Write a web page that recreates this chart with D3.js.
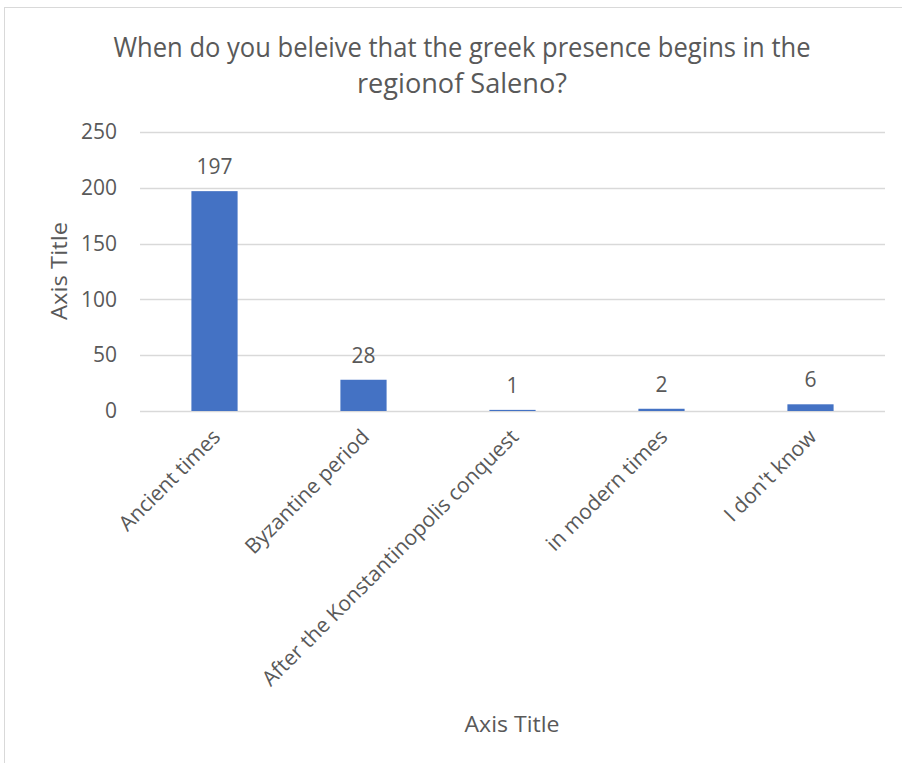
<!DOCTYPE html>
<html>
<head>
<meta charset="utf-8">
<script src="https://cdn.jsdelivr.net/npm/d3@7"></script>
<style>
  html, body { margin: 0; padding: 0; background: #fff; }
  svg { display: block; }
  text { font-family: "Open Sans", "Noto Sans", sans-serif; fill: #595959; }
</style>
</head>
<body>
<svg id="chart" width="902" height="763"></svg>
<script>
// Survey answers: when the Greek presence begins in the region
const categories = ["Ancient times", "Byzantine period", "After the Konstantinopolis conquest", "in modern times", "I don't know"];
const values = [197, 28, 1, 2, 6];
const yTicks = [0, 50, 100, 150, 200, 250];
const titleLines = ["When do you beleive that the greek presence begins in the", "regionof Saleno?"];
const xAxisTitle = "Axis Title";
const yAxisTitle = "Axis Title";

const svg = d3.select("#chart");
const plot = { left: 140, right: 885, top: 132, bottom: 411 };

// chart frame
svg.append("rect")
  .attr("x", 4.5).attr("y", 7.5)
  .attr("width", 1000).attr("height", 1000)
  .attr("fill", "#fff").attr("stroke", "#d9d9d9").attr("stroke-width", 1);

const x = d3.scaleBand().domain(categories).range([plot.left, plot.right]).paddingInner(0.69).paddingOuter(0.345);
const y = d3.scaleLinear().domain([0, 250]).range([plot.bottom, plot.top]);

// gridlines
svg.append("g").selectAll("line").data(yTicks).join("line")
  .attr("x1", plot.left).attr("x2", plot.right)
  .attr("y1", d => Math.round(y(d)) + 0.5).attr("y2", d => Math.round(y(d)) + 0.5)
  .attr("stroke", "#d9d9d9").attr("stroke-width", 1.5);

// y axis labels
const yAxis = d3.axisLeft(y).tickValues(yTicks).tickSize(0).tickPadding(0);
svg.append("g").attr("transform", `translate(117,0)`).call(yAxis)
  .call(g => g.select(".domain").remove())
  .call(g => g.selectAll("text").attr("font-size", 21).attr("fill", "#595959")
    .attr("font-family", "'Open Sans', sans-serif"));

// bars
svg.append("g").selectAll("rect").data(values).join("rect")
  .attr("x", (d, i) => x(categories[i]))
  .attr("width", x.bandwidth())
  .attr("y", d => y(d))
  .attr("height", d => y(0) - y(d))
  .attr("fill", "#4472c4");

// value labels
svg.append("g").selectAll("text").data(values).join("text")
  .attr("x", (d, i) => x(categories[i]) + x.bandwidth() / 2)
  .attr("y", d => y(d) - 17)
  .attr("text-anchor", "middle")
  .attr("font-size", 21)
  .text(d => d);

// category labels, rotated
const xAxis = d3.axisBottom(x).tickSize(0).tickPadding(0);
svg.append("g").attr("transform", `translate(0,${plot.bottom})`).call(xAxis)
  .call(g => g.select(".domain").remove())
  .call(g => g.selectAll("text")
    .attr("font-size", 21).attr("fill", "#595959")
    .attr("font-family", "'Open Sans', sans-serif")
    .attr("text-anchor", "end")
    .attr("dy", "0.35em").attr("y", 0)
    .attr("transform", "translate(2,22) rotate(-45)"));

// title
svg.append("g").selectAll("text").data(titleLines).join("text")
  .attr("x", 462)
  .attr("y", (d, i) => 57 + i * 36)
  .attr("text-anchor", "middle")
  .attr("font-size", 28)
  .attr("textLength", (d, i) => i === 0 ? 697 : 210)
  .attr("lengthAdjust", "spacingAndGlyphs")
  .text(d => d);

// axis titles
svg.append("text")
  .attr("x", 512).attr("y", 732)
  .attr("text-anchor", "middle").attr("font-size", 22)
  .attr("textLength", 95).attr("lengthAdjust", "spacingAndGlyphs")
  .text(xAxisTitle);

svg.append("text")
  .attr("transform", "translate(67,271) rotate(-90)")
  .attr("text-anchor", "middle").attr("font-size", 22)
  .attr("textLength", 98).attr("lengthAdjust", "spacingAndGlyphs")
  .text(yAxisTitle);
</script>
</body>
</html>
